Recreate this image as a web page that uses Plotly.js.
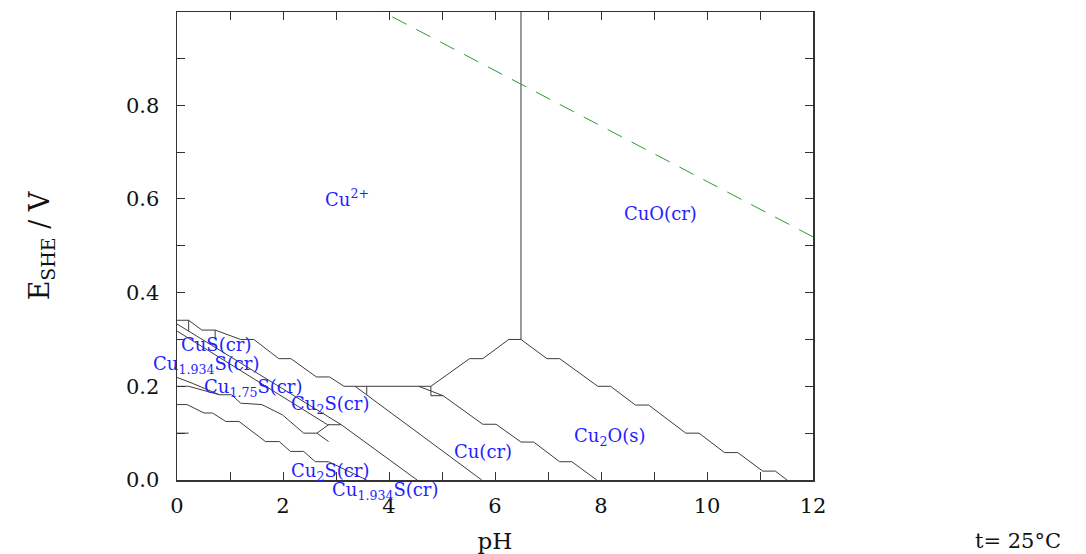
<!DOCTYPE html>
<html>
<head>
<meta charset="utf-8">
<script src="https://cdn.plot.ly/plotly-3.0.1.min.js"></script>
<style>html,body{margin:0;padding:0;background:#fff;}</style>
</head>
<body>
<div id="chart" style="width:1086px;height:554px;"></div>
<script>
// ---- Boundary lines (pH, E / V) ----
const cuS_Cu2_pH  = [0, 0.22, 0.47, 0.72, 1.2, 1.45, 1.76, 1.92, 2.15, 2.63, 2.88, 3.15];
const cuS_Cu2_E   = [0.341, 0.341, 0.32, 0.32, 0.30, 0.30, 0.273, 0.259, 0.259, 0.22, 0.22, 0.2];
const sulf_Cu2_pH = [3.15, 4.79];
const sulf_Cu2_E  = [0.2, 0.2];
const cu2_Cu2O_pH = [4.79, 5.52, 5.77, 6.26, 6.49];
const cu2_Cu2O_E  = [0.2, 0.259, 0.259, 0.3, 0.3];
const cu2_CuO_pH  = [6.49, 6.49];
const cu2_CuO_E   = [0.3, 1.0];
const cu2O_CuO_pH = [6.49, 6.98, 7.22, 7.94, 8.18, 8.65, 8.90, 9.60, 9.85, 10.33, 10.58, 11.05, 11.29, 11.51];
const cu2O_CuO_E  = [0.3, 0.259, 0.259, 0.2, 0.2, 0.16, 0.16, 0.1, 0.1, 0.0585, 0.0585, 0.019, 0.019, 0];
const cu_Cu2O_pH  = [4.56, 5.02, 5.77, 6.02, 6.49, 6.73, 7.22, 7.45, 7.92];
const cu_Cu2O_E   = [0.2, 0.18, 0.119, 0.119, 0.081, 0.081, 0.039, 0.039, 0];
const triR_pH     = [4.79, 4.79, 5.02];
const triR_E      = [0.2, 0.18, 0.18];
const cu2S_Cu_pH  = [3.36, 5.75];
const cu2S_Cu_E   = [0.2, 0];
const triL_pH     = [3.58, 3.58];
const triL_E      = [0.2, 0.182];
const upperStr_pH = [0, 3.1];
const upperStr_E  = [0.333, 0.118];
const lowerStr_pH = [0, 2.84, 3.1, 4.53];
const lowerStr_E  = [0.318, 0.118, 0.118, 0];
const cu175_pH    = [0, 0.3, 0.8, 1.03, 1.2, 1.6, 1.99, 2.39, 2.64];
const cu175_E     = [0.219, 0.206, 0.182, 0.182, 0.164, 0.161, 0.139, 0.1, 0.1];
const branchUp_pH = [2.64, 2.86];
const branchUp_E  = [0.1, 0.118];
const branchDn_pH = [2.64, 2.86];
const branchDn_E  = [0.1, 0.082];
const h02_pH      = [0, 0.22, 0.8];
const h02_E       = [0.2, 0.2, 0.182];
const lowStep_pH  = [0, 0.19, 0.51, 0.67, 0.92, 1.17, 1.67, 1.93, 2.14, 2.39, 2.61, 2.86, 3.58];
const lowStep_E   = [0.161, 0.161, 0.143, 0.143, 0.125, 0.125, 0.082, 0.082, 0.061, 0.061, 0.039, 0.039, 0];
const stub01_pH   = [0, 0.22];
const stub01_E    = [0.1, 0.1];
const vTop1_pH    = [0.22, 0.22];
const vTop1_E     = [0.341, 0.318];
const vTop2_pH    = [0.72, 0.72];
const vTop2_E     = [0.32, 0.30];
// water oxidation limit (dashed)
const o2_pH = [0, 12];
const o2_E  = [1.229, 0.519];

// ---- Region labels ----
const labelText = ['Cu<sup>2+</sup>', 'CuO(cr)', 'Cu<sub>2</sub>O(s)', 'Cu(cr)', 'CuS(cr)',
                   'Cu<sub>1.934</sub>S(cr)', 'Cu<sub>1.75</sub>S(cr)', 'Cu<sub>2</sub>S(cr)',
                   'Cu<sub>2</sub>S(cr)', 'Cu<sub>1.934</sub>S(cr)'];
const labelPH = [3.21, 9.12, 8.16, 5.78, 0.73, 0.56, 1.44, 2.89, 2.89, 3.93];
const labelE  = [0.602, 0.568, 0.092, 0.06, 0.289, 0.246, 0.197, 0.16, 0.017, -0.023];

const xTicks = [0, 2, 4, 6, 8, 10, 12];
const yTicks = [0, 0.2, 0.4, 0.6, 0.8];

const boundaries = [
  [cuS_Cu2_pH, cuS_Cu2_E], [sulf_Cu2_pH, sulf_Cu2_E], [cu2_Cu2O_pH, cu2_Cu2O_E],
  [cu2_CuO_pH, cu2_CuO_E], [cu2O_CuO_pH, cu2O_CuO_E], [cu_Cu2O_pH, cu_Cu2O_E],
  [triR_pH, triR_E], [cu2S_Cu_pH, cu2S_Cu_E], [triL_pH, triL_E],
  [upperStr_pH, upperStr_E], [lowerStr_pH, lowerStr_E], [cu175_pH, cu175_E],
  [branchUp_pH, branchUp_E], [branchDn_pH, branchDn_E], [h02_pH, h02_E],
  [lowStep_pH, lowStep_E], [stub01_pH, stub01_E], [vTop1_pH, vTop1_E], [vTop2_pH, vTop2_E]
];

const traces = boundaries.map(b => ({
  x: b[0], y: b[1], type: 'scatter', mode: 'lines',
  line: {color: '#3c3c3c', width: 1}, showlegend: false, hoverinfo: 'skip'
}));
traces.push({
  x: o2_pH, y: o2_E, type: 'scatter', mode: 'lines',
  line: {color: '#2f9a2f', width: 1, dash: '16px,11px'}, showlegend: false, hoverinfo: 'skip'
});

const serif = 'DejaVu Serif, Liberation Serif, serif';
const PX_PER_V = 468 / 0.999;
const annotations = labelText.map((t, i) => ({
  x: labelPH[i], y: Math.max(labelE[i], 0), xref: 'x', yref: 'y', text: t, showarrow: false,
  yshift: labelE[i] < 0 ? labelE[i] * PX_PER_V : 0,
  xanchor: 'center', yanchor: 'middle',
  font: {family: serif, size: 18, color: '#1f1fff'}
}));
annotations.push({
  x: 1.322, y: -0.13, xref: 'paper', yref: 'paper', text: 't= 25°C', showarrow: false,
  xanchor: 'center', yanchor: 'middle', font: {family: serif, size: 21, color: '#111'}
});

const axisCommon = {
  showline: true, linecolor: '#333', linewidth: 1.5, mirror: 'ticks',
  ticks: 'inside', ticklen: 8, tickcolor: '#333', tickwidth: 1,
  showgrid: false, zeroline: false,
  tickfont: {family: serif, size: 21, color: '#111'}
};

const layout = {
  width: 1086, height: 554,
  margin: {l: 177, r: 273, t: 12, b: 74},
  paper_bgcolor: '#fff', plot_bgcolor: '#fff',
  xaxis: Object.assign({}, axisCommon, {
    range: [0, 12], tickvals: xTicks, ticktext: xTicks.map(String),
    minor: {dtick: 1, tick0: 0, ticks: 'inside', ticklen: 8, tickcolor: '#333'},
    ticklabelstandoff: 6,
    title: {text: 'pH', font: {family: serif, size: 23, color: '#111'}, standoff: 16}
  }),
  yaxis: Object.assign({}, axisCommon, {
    range: [0, 0.999], tickvals: yTicks, ticktext: yTicks.map(v => v.toFixed(1)),
    minor: {dtick: 0.1, tick0: 0, ticks: 'inside', ticklen: 8, tickcolor: '#333'},
    ticklabelstandoff: 12,
    title: {text: 'E<sub>SHE</sub> / V', font: {family: serif, size: 27, color: '#111'}, standoff: 68}
  }),
  annotations: annotations
};

Plotly.newPlot('chart', traces, layout, {displayModeBar: false, staticPlot: true});
</script>
</body>
</html>
